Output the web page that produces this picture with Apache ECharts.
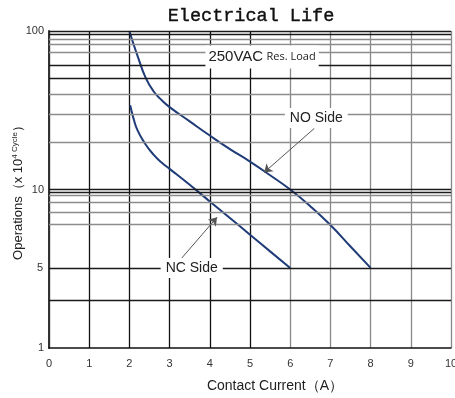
<!DOCTYPE html>
<html>
<head>
<meta charset="utf-8">
<script src="https://cdn.jsdelivr.net/npm/echarts@6/dist/echarts.min.js"></script>
<style>html,body{margin:0;padding:0;background:#fff;}#c{width:455px;height:398px;}</style>
</head>
<body>
<div id="c"></div>
<script>
// ---- data ----
const xMin = 0, xMax = 10;
const yMin = 1, yMax = 100;
// NO side curve
const noX = [2.0, 2.1, 2.2, 2.4, 2.6, 2.8, 3.0, 3.5, 4.0, 4.5, 5.0, 5.5, 6.0, 6.5, 7.0, 7.5, 8.0];
const noY = [100, 83, 70, 51, 41.7, 36.7, 33.1, 26.9, 21.9, 18, 15, 12.3, 10, 7.85, 5.97, 4.37, 3.2];
// NC side curve
const ncX = [2.02, 2.1, 2.2, 2.4, 2.6, 2.8, 3.0, 3.5, 4.0, 4.5, 5.0, 5.5, 6.0];
const ncY = [34, 28.2, 23.7, 19.3, 16.6, 14.8, 13.5, 10.7, 8.41, 6.61, 5.19, 4.07, 3.2];
// horizontal grid lines (values on the y axis)
const hDark = [100, 95.3, 60.4, 50, 10, 9.65, 2];
const hLight = [89, 82.4, 73.4, 40, 30, 20, 9.2, 8.3, 7.21, 6.03];
const hLabelled = [{ value: 3.2, text: '5' }];
// annotations
const loadText = ['250VAC', 'Res. Load'];
const loadAt = [5.3, 68.5];
const noLabel = { text: 'NO Side', at: [6.65, 28.3], from: [6.6, 24.3], to: [5.35, 12.8] };
const ncLabel = { text: 'NC Side', at: [3.55, 3.2], from: [3.26, 3.59], to: [4.18, 6.68] };

const DARK = '#1a1a1a', LIGHT = '#8c8c8c', CURVE = '#1f3b78';

const zip = (xs, ys) => xs.map((x, i) => [x, ys[i]]);

const gridMarks = []
  .concat(hDark.map(v => ({ yAxis: v, lineStyle: { color: DARK }, label: { show: false } })))
  .concat(hLight.map(v => ({ yAxis: v, lineStyle: { color: LIGHT }, label: { show: false } })))
  .concat(hLabelled.map(o => ({
    yAxis: o.value, lineStyle: { color: DARK },
    label: { show: true, position: 'start', formatter: o.text, distance: 6,
      color: '#333', fontSize: 11, fontFamily: 'Liberation Sans' }
  })));

const vColors = ['#111', '#111', '#111', '#111', '#111', '#111', '#888', '#888', '#888', '#888', '#888'];

const labelStyle = { backgroundColor: '#fff', color: '#222', fontFamily: 'Liberation Sans', fontSize: 14, padding: [3, 5] };

const chart = echarts.init(document.getElementById('c'));
chart.setOption({
  animation: false,
  backgroundColor: '#fff',
  title: {
    text: 'Electrical Life', left: 246, top: 2, textAlign: 'center',
    textStyle: { fontFamily: 'Liberation Mono', fontSize: 18.5, fontWeight: 'normal', color: '#111',
      textBorderColor: '#111', textBorderWidth: 0.4 }
  },
  grid: { left: 49, right: 4, top: 31, bottom: 50, outerBoundsMode: 'none', containLabel: false },
  xAxis: {
    type: 'value', min: xMin, max: xMax, interval: 1,
    name: 'Contact Current（A）', nameLocation: 'middle', nameGap: 31, nameMoveOverlap: false,
    nameTextStyle: { fontFamily: 'Liberation Sans', fontSize: 14, color: '#222', padding: [0, 0, 0, 50] },
    axisLine: { lineStyle: { color: '#111', width: 1.5 } },
    axisTick: { show: false },
    axisLabel: { margin: 10, color: '#333', fontSize: 11, fontFamily: 'Liberation Sans' },
    splitLine: { show: true, lineStyle: { color: vColors, width: 1.3 } }
  },
  yAxis: {
    type: 'log', logBase: 10, min: yMin, max: yMax,
    name: '{a|Operations（x 10}{s|4}{c| Cycle}{a|）}', nameLocation: 'middle', nameGap: 24, nameMoveOverlap: false,
    nameTextStyle: {
      rich: {
        a: { fontFamily: 'Liberation Sans', fontSize: 13, color: '#222' },
        s: { fontFamily: 'Liberation Sans', fontSize: 8, color: '#222', verticalAlign: 'top', padding: [0, 0, 6, 0] },
        c: { fontFamily: 'Liberation Sans', fontSize: 8, color: '#222', verticalAlign: 'top', padding: [0, 0, 6, 0] }
      }
    },
    axisLine: { show: true, lineStyle: { color: '#333', width: 2 } },
    axisTick: { show: false },
    axisLabel: { margin: 5, color: '#333', fontSize: 11, fontFamily: 'Liberation Sans' },
    splitLine: { show: false },
    minorSplitLine: { show: false }
  },
  series: [
    {
      name: 'grid', type: 'line', data: [], z: 1, silent: true,
      markLine: { silent: true, symbol: ['none', 'none'], animation: false,
        lineStyle: { type: 'solid', width: 1.3 }, data: gridMarks }
    },
    {
      name: 'NO Side', type: 'line', data: zip(noX, noY), smooth: 0.5, showSymbol: false, z: 3,
      lineStyle: { color: CURVE, width: 2 }, itemStyle: { color: CURVE }
    },
    {
      name: 'NC Side', type: 'line', data: zip(ncX, ncY), smooth: 0.5, showSymbol: false, z: 3,
      lineStyle: { color: CURVE, width: 2 }, itemStyle: { color: CURVE }
    },
    {
      name: 'notes', type: 'line', data: [], z: 5, silent: true,
      markLine: {
        silent: true, symbol: ['none', 'arrow'], symbolSize: 8, animation: false,
        lineStyle: { color: '#555', width: 1, type: 'solid' }, label: { show: false },
        data: [
          [{ coord: noLabel.from }, { coord: noLabel.to }],
          [{ coord: ncLabel.from }, { coord: ncLabel.to }]
        ]
      },
      markPoint: {
        silent: true, symbol: 'circle', symbolSize: 1, animation: false,
        itemStyle: { color: 'rgba(0,0,0,0)' },
        data: [
          { coord: loadAt, label: { show: true, position: 'inside',
              formatter: '{a|' + loadText[0] + '} {b|' + loadText[1] + '}',
              backgroundColor: '#fff', padding: [4, 3],
              rich: { a: { fontFamily: 'Liberation Sans', fontSize: 15, color: '#222' },
                      b: { fontFamily: 'Open Sans', fontSize: 11, color: '#222' } } } },
          { coord: noLabel.at, label: Object.assign({ show: true, position: 'inside', formatter: noLabel.text }, labelStyle) },
          { coord: ncLabel.at, label: Object.assign({ show: true, position: 'inside', formatter: ncLabel.text }, labelStyle) }
        ]
      }
    }
  ]
});
</script>
</body>
</html>
